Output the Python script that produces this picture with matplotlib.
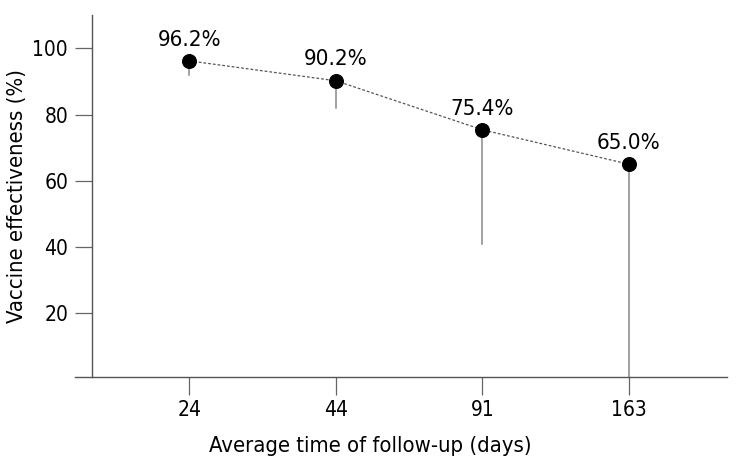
import matplotlib
matplotlib.use("Agg")
import matplotlib.pyplot as plt

categories = ["24", "44", "91", "163"]
effectiveness = [96.2, 90.2, 75.4, 65.0]
lower_ci = [92.0, 82.0, 41.0, 0.0]
labels = ["96.2%", "90.2%", "75.4%", "65.0%"]

plt.rcParams['font.family'] = ['DejaVu Sans']
plt.rcParams['font.stretch'] = 'condensed'
fig = plt.figure(figsize=(7.36, 4.67), dpi=100)
ax = fig.add_axes([75/736, (467-377.3)/467, (726.7-75)/736, (377.3-15)/467])

x = list(range(1, len(categories) + 1))
for xi, v, lo in zip(x, effectiveness, lower_ci):
    ax.plot([xi, xi], [lo, v], color='#888888', lw=1.1, zorder=1)
ax.plot(x, effectiveness, linestyle=(0, (2.2, 1.6)), color='#555555', lw=0.9, zorder=2)
ax.plot(x, effectiveness, 'o', color='black', markersize=9.8, zorder=3)
for xi, v, t in zip(x, effectiveness, labels):
    ax.annotate(t, (xi, v), xytext=(0, 11), textcoords='offset points',
                ha='center', va='baseline', fontsize=16, fontstretch='condensed')

ax.set_xlim(0.22, 4.667)
ax.set_ylim(0.68, 110.05)
ax.set_xticks(x)
ax.set_xticklabels(categories)
ax.set_yticks([20, 40, 60, 80, 100])
ax.spines['top'].set_visible(False)
ax.spines['right'].set_visible(False)
ax.spines['left'].set_position(('data', 0.334))
for s in ['left', 'bottom']:
    ax.spines[s].set_color('#555555')
    ax.spines[s].set_linewidth(1.0)
ax.tick_params(axis='both', colors='#666666', labelcolor='black', labelsize=15,
               length=12, width=0.9, direction='out')
ax.tick_params(axis='x', length=13, pad=3)
ax.tick_params(axis='y', pad=5)
ax.set_xlabel("Average time of follow-up (days)", fontsize=15.8)
ax.set_ylabel("Vaccine effectiveness (%)", fontsize=15.8)
ax.xaxis.set_label_coords(0.4527, -0.162)
ax.yaxis.set_label_coords(-0.0737, 0.5)
fig.savefig("out.png", dpi=100)
